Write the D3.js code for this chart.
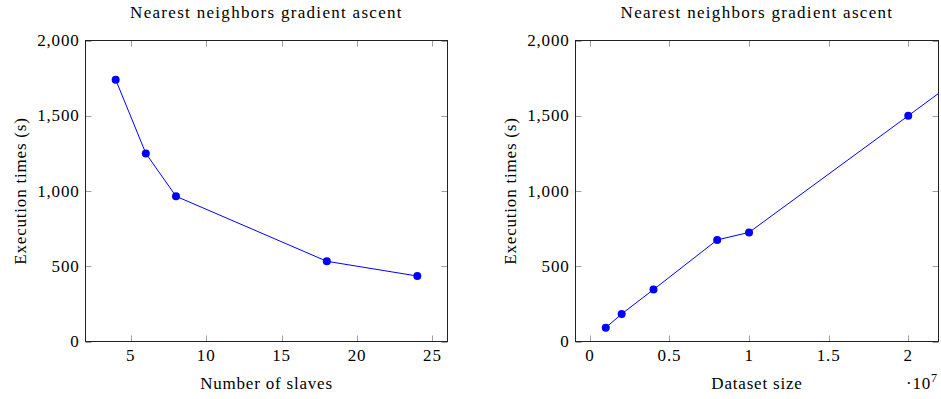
<!DOCTYPE html>
<html>
<head>
<meta charset="utf-8">
<script src="https://cdn.jsdelivr.net/npm/d3@7"></script>
<style>
  html, body { margin: 0; padding: 0; background: #fff; }
</style>
</head>
<body>
<svg id="chart" width="941" height="399"></svg>
<script>
// Execution time vs. number of slaves
const slaves = [4, 6, 8, 18, 24];
const slaveTimes = [1740, 1250, 965, 533, 435];

// Execution time vs. dataset size (last point lies beyond the visible x range)
const datasetSizes = [1e6, 2e6, 4e6, 8e6, 1e7, 2e7, 4e7];
const datasetTimes = [92, 183, 345, 675, 725, 1500, 3060];

const yTicks = [0, 500, 1000, 1500, 2000];
const slaveTicks = [5, 10, 15, 20, 25];
const sizeTicks = [0, 0.5e7, 1e7, 1.5e7, 2e7];

const chartTitle = "Nearest neighbors gradient ascent";
const yTitle = "Execution times (s)";

const FONT = "Liberation Serif";
const FS = 17;
const LS = 0.8;

const svg = d3.select("#chart");
const fmtY = d3.format(",");

// apply the shared text style to a text selection
function styled(sel, spacing = LS) {
  return sel.attr("font-family", FONT)
    .style("font-family", FONT)
    .attr("font-size", FS)
    .attr("letter-spacing", spacing)
    .attr("fill", "#000");
}

function panel(opts) {
  const { left, right, top, bottom, xDomain, xTicks, xFmt, xs, ys, xTitle, id, scaleLabel } = opts;
  const x = d3.scaleLinear().domain(xDomain).range([left, right]);
  const y = d3.scaleLinear().domain([0, 2000]).range([bottom, top]);
  const g = svg.append("g");

  g.append("clipPath").attr("id", id)
    .append("rect").attr("x", left).attr("y", top)
    .attr("width", right - left).attr("height", bottom - top);

  const tickLen = 6;
  // inward ticks on all four sides
  const ticks = g.append("g").attr("stroke", "#a0a0a0").attr("stroke-width", 1);
  xTicks.forEach(t => {
    const px = Math.round(x(t)) + 0.5;
    ticks.append("line").attr("x1", px).attr("x2", px).attr("y1", bottom).attr("y2", bottom - tickLen);
    ticks.append("line").attr("x1", px).attr("x2", px).attr("y1", top).attr("y2", top + tickLen);
  });
  yTicks.forEach(t => {
    const py = Math.round(y(t)) + 0.5;
    ticks.append("line").attr("x1", left).attr("x2", left + tickLen).attr("y1", py).attr("y2", py);
    ticks.append("line").attr("x1", right).attr("x2", right - tickLen).attr("y1", py).attr("y2", py);
  });

  // tick labels
  styled(g.selectAll(".xl").data(xTicks).enter().append("text"))
    .attr("x", d => x(d)).attr("y", 361)
    .attr("text-anchor", "middle")
    .text(xFmt);
  styled(g.selectAll(".yl").data(yTicks).enter().append("text"))
    .attr("x", left - 6).attr("y", d => y(d) + 5.5)
    .attr("text-anchor", "end")
    .text(fmtY);

  // series
  const plot = g.append("g").attr("clip-path", `url(#${id})`);
  const pts = xs.map((v, i) => [v, ys[i]]);
  plot.append("path").datum(pts)
    .attr("fill", "none").attr("stroke", "#0000ff").attr("stroke-width", 1)
    .attr("d", d3.line().x(d => x(d[0])).y(d => y(d[1])));
  plot.selectAll("circle").data(pts).enter().append("circle")
    .attr("cx", d => x(d[0])).attr("cy", d => y(d[1])).attr("r", 4)
    .attr("fill", "#0000ff");

  // frame
  g.append("rect").attr("x", left).attr("y", top)
    .attr("width", right - left).attr("height", bottom - top)
    .attr("fill", "none").attr("stroke", "#222").attr("stroke-width", 1);

  // titles
  const cx = (left + right) / 2;
  styled(g.append("text"), 1.3).attr("x", cx).attr("y", 18).attr("text-anchor", "middle")
    .text(chartTitle);
  styled(g.append("text")).attr("x", cx).attr("y", 389).attr("text-anchor", "middle")
    .text(xTitle);
  styled(g.append("text"))
    .attr("transform", `translate(${left - 60},${(top + bottom) / 2}) rotate(-90)`)
    .attr("text-anchor", "middle").text(yTitle);

  if (scaleLabel) {
    const t = styled(g.append("text")).attr("x", 906).attr("y", 389);
    t.append("tspan").text("\u00b710");
    t.append("tspan").attr("dy", -7).attr("font-size", 12).text(scaleLabel);
  }
}

panel({
  id: "clipA", left: 85.5, right: 447.5, top: 40.5, bottom: 341.5,
  xDomain: [2, 26], xTicks: slaveTicks, xFmt: d => d,
  xs: slaves, ys: slaveTimes, xTitle: "Number of slaves"
});

panel({
  id: "clipB", left: 575.5, right: 938.5, top: 40.5, bottom: 341.5,
  xDomain: [-0.09e7, 2.19e7], xTicks: sizeTicks, xFmt: d => d / 1e7,
  xs: datasetSizes, ys: datasetTimes, xTitle: "Dataset size", scaleLabel: "7"
});
</script>
</body>
</html>
